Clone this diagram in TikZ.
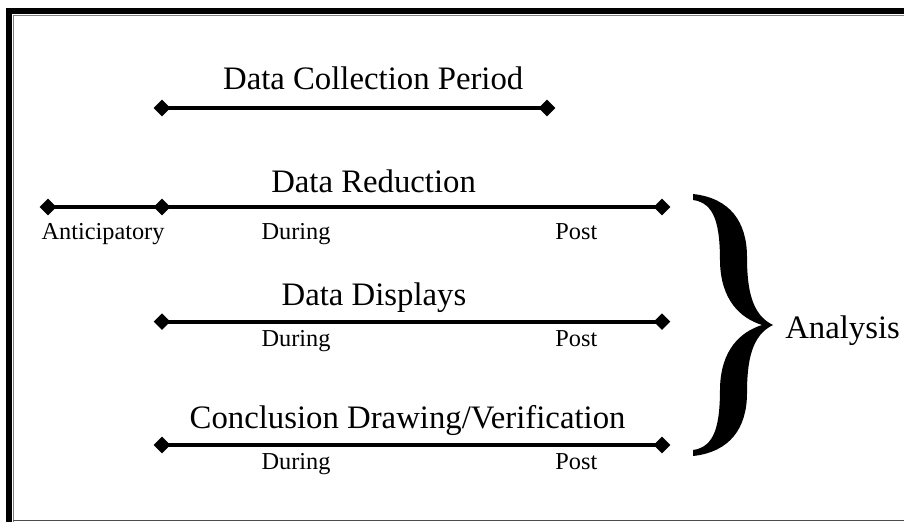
\documentclass[tikz,border=0pt]{standalone}
\usepackage{fontspec}
\setmainfont{Liberation Serif}
\usetikzlibrary{shapes.geometric}

\begin{document}
\begin{tikzpicture}[
    dia/.style={diamond, fill=black, inner sep=0pt, minimum size=0.42cm},
    bar/.style={line width=2.8pt},
    period/.style={anchor=base, inner sep=0pt, font=\fontsize{23.3}{28}\selectfont},
    stage/.style={anchor=base, inner sep=0pt, font=\fontsize{17.3}{21}\selectfont}
]

    % Frame
    \useasboundingbox (0,0) rectangle (22.6,-13.05);
    \draw[line width=4.3pt] (0.225,-13.05) -- (0.225,-0.275) -- (22.6,-0.275);
    \draw[gray, line width=0.8pt] (0.3375,-13.05) -- (0.3375,-0.38) -- (22.6,-0.38);
    \draw[black!70, line width=1pt] (0.3375,-13.01) -- (22.6,-13.01);

    % Data collection period
    \node[dia] (col-a) at (4.05,-2.7) {};
    \node[dia] (col-b) at (13.675,-2.7) {};
    \draw[bar] (col-a.center) -- (col-b.center);
    \node[period] (col-t) at (9.33,-2.25) {Data Collection Period};

    % Data reduction
    \node[dia] (red-a) at (1.2,-5.175) {};
    \node[dia] (red-b) at (4.05,-5.175) {};
    \node[dia] (red-c) at (16.55,-5.175) {};
    \draw[bar] (red-a.center) -- (red-b.center) -- (red-c.center);
    \node[period] (red-t) at (9.34,-4.8) {Data Reduction};
    \node[stage] (red-ant) at (2.575,-5.975) {Anticipatory};
    \node[stage] (red-dur) at (7.4,-5.975) {During};
    \node[stage] (red-post) at (14.41,-5.975) {Post};

    % Data displays
    \node[dia] (dis-a) at (4.05,-8.04) {};
    \node[dia] (dis-b) at (16.55,-8.04) {};
    \draw[bar] (dis-a.center) -- (dis-b.center);
    \node[period] (dis-t) at (9.35,-7.625) {Data Displays};
    \node[stage] (dis-dur) at (7.4,-8.66) {During};
    \node[stage] (dis-post) at (14.41,-8.66) {Post};

    % Conclusion drawing
    \node[dia] (con-a) at (4.05,-11.125) {};
    \node[dia] (con-b) at (16.55,-11.125) {};
    \draw[bar] (con-a.center) -- (con-b.center);
    \node[period] (con-t) at (10.19,-10.7) {Conclusion Drawing/Verification};
    \node[stage] (con-dur) at (7.4,-11.725) {During};
    \node[stage] (con-post) at (14.41,-11.725) {Post};

    % Brace
    \fill (17.325,-4.85) .. controls (18.25,-4.95) and (18.675,-5.55) .. (18.675,-6.425)
        .. controls (18.675,-7.25) and (18.8,-7.875) .. (19.325,-8.125)
        .. controls (18.8,-8.375) and (18.675,-9.0) .. (18.675,-9.825)
        .. controls (18.675,-10.7) and (18.25,-11.3) .. (17.325,-11.4)
        -- (17.325,-11.25)
        .. controls (17.875,-11.175) and (18.0,-10.625) .. (18.0,-9.7)
        .. controls (18.025,-8.75) and (18.5,-8.3) .. (19.05,-8.125)
        .. controls (18.5,-7.95) and (18.025,-7.5) .. (18.0,-6.55)
        .. controls (18.0,-5.625) and (17.875,-5.075) .. (17.325,-5.0) -- cycle;
    \node[period, anchor=base west] (ana) at (19.625,-8.45) {Analysis};

\end{tikzpicture}
\end{document}
